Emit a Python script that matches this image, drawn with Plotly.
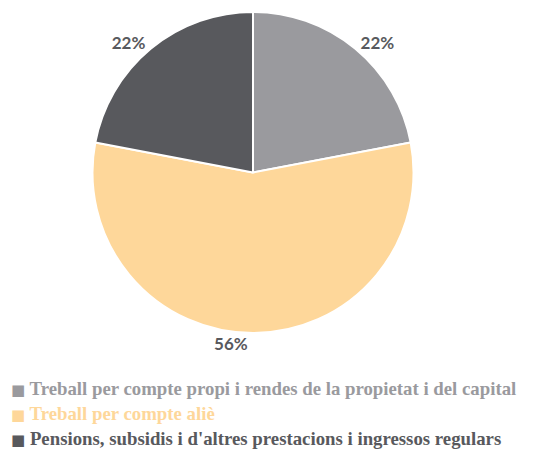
import plotly.graph_objects as go

categories = [
    "Treball per compte propi i rendes de la propietat i del capital",
    "Treball per compte aliè",
    "Pensions, subsidis i d'altres prestacions i ingressos regulars",
]
shares = [22, 56, 22]
colors = ["#9a9a9e", "#fed79a", "#58595d"]

fig = go.Figure(
    go.Pie(
        labels=categories,
        values=shares,
        sort=False,
        direction="clockwise",
        rotation=0,
        marker=dict(colors=colors, line=dict(color="white", width=2)),
        textposition="outside",
        texttemplate="%{value}%",
        textfont=dict(family="Lato", size=17, color="#58595d", weight="bold"),
        domain=dict(x=[92 / 533, 414 / 533], y=[1 - 333 / 450, 1 - 12 / 450]),
        hoverinfo="none",
        showlegend=False,
    )
)

# Legend drawn as coloured text lines under the pie
legend_top = 388
legend_step = 25
for i, (name, c) in enumerate(zip(categories, colors)):
    fig.add_annotation(
        x=9 / 533,
        y=1 - (legend_top + i * legend_step) / 450,
        xref="paper",
        yref="paper",
        xanchor="left",
        yanchor="middle",
        showarrow=False,
        align="left",
        text=f"<span style='font-family:DejaVu Sans;font-size:15px'>■</span> {name}",
        font=dict(family="Liberation Serif", size=18.8, color=c, weight="bold"),
    )

fig.update_layout(
    width=533,
    height=450,
    margin=dict(l=0, r=0, t=0, b=0),
    paper_bgcolor="white",
    plot_bgcolor="white",
)

fig.write_html("out.html")
